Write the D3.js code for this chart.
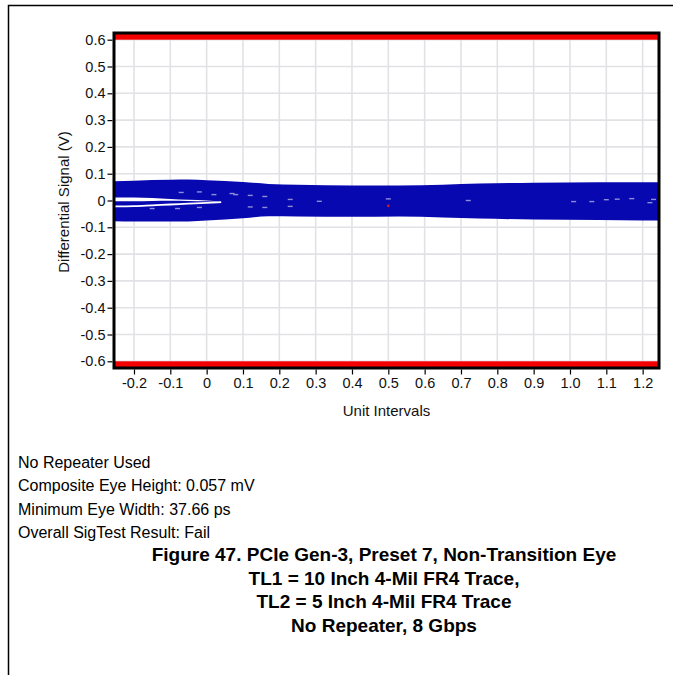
<!DOCTYPE html>
<html>
<head>
<meta charset="utf-8">
<script src="https://cdn.jsdelivr.net/npm/d3@7"></script>
<style>
  body { margin: 0; background: #fff; }
  text { font-family: "Liberation Sans", Arial, sans-serif; }
</style>
</head>
<body>
<script>
var width = 673,
    height = 675;

// tick labels
var xTicks = [-0.2, -0.1, 0, 0.1, 0.2, 0.3, 0.4, 0.5, 0.6, 0.7, 0.8, 0.9, 1.0, 1.1, 1.2];
var yTicks = [0.6, 0.5, 0.4, 0.3, 0.2, 0.1, 0, -0.1, -0.2, -0.3, -0.4, -0.5, -0.6];

// eye mask limits (V)
var maskLimits = [0.6, -0.6];

// outer envelope of the eye traces
var bandX     = [-0.255, -0.2, -0.1, -0.05, 0, 0.1, 0.17, 0.25, 0.4, 0.53, 0.65, 0.75, 0.9, 1.08, 1.2, 1.245];
var bandUpper = [0.072, 0.074, 0.077, 0.078, 0.076, 0.069, 0.062, 0.059, 0.056, 0.056, 0.059, 0.063, 0.066, 0.068, 0.068, 0.068];
var bandLower = [-0.077, -0.078, -0.078, -0.078, -0.075, -0.066, -0.059, -0.060, -0.061, -0.060, -0.063, -0.067, -0.071, -0.073, -0.075, -0.075];

// open gaps near the left edge
var gapX      = [-0.255, -0.2, -0.15, -0.1, -0.05, 0, 0.04];
var gapTop    = [0.011, 0.011, 0.009, 0.006, 0.003, 0.000, -0.004];
var gapBottom = [-0.003, -0.003, -0.002, -0.001, -0.002, -0.003, -0.004];
var gap2Y     = [-0.022, -0.021, -0.018, -0.015, -0.012, -0.009, -0.006];

// small holes inside the traces [UI, V]
var speckX = [-0.07, -0.02, 0.02, 0.08, 0.07, 0.12, 0.16, 0.23, 0.31, -0.15, -0.08, -0.02, 0.12, 0.16, 0.23, 0.50, 0.72, 1.01, 1.06, 1.10, 1.13, 1.17, 1.22, 1.23];
var speckY = [0.030, 0.032, 0.022, 0.022, 0.026, 0.019, 0.015, 0.004, -0.003, -0.030, -0.030, -0.026, -0.024, -0.026, -0.022, 0.006, 0.0, -0.004, -0.004, 0.003, 0.005, 0.007, -0.008, 0.004];

// red marker at eye centre
var centreMark = [0.5, -0.02];

var infoLines = ["No Repeater Used", "Composite Eye Height: 0.057 mV", "Minimum Eye Width: 37.66 ps", "Overall SigTest Result: Fail"];
var captionLines = ["Figure 47. PCIe Gen-3, Preset 7, Non-Transition Eye", "TL1 = 10 Inch 4-Mil FR4 Trace,", "TL2 = 5 Inch 4-Mil FR4 Trace", "No Repeater, 8 Gbps"];

var margin = {left: 114, right: 659, top: 33, bottom: 368};

var svg = d3.select("body")
  .append("svg")
  .attr("width", width)
  .attr("height", height);

// page frame
svg.append("path")
  .attr("d", "M8.5,675V5.5H673")
  .attr("fill", "none")
  .attr("stroke", "#000")
  .attr("stroke-width", 1.5);

var x = d3.scaleLinear().domain([-0.255, 1.245]).range([margin.left, margin.right]);
var y = d3.scaleLinear().domain([-0.625, 0.625]).range([margin.bottom, margin.top]);

// hyphen minus, like the original
var fmt = function(d) { return d === 0 ? "0" : d.toFixed(1); };

// grid
svg.append("g").selectAll("line")
  .data(xTicks)
  .enter().append("line")
  .attr("x1", function(d) { return x(d); })
  .attr("x2", function(d) { return x(d); })
  .attr("y1", margin.top)
  .attr("y2", margin.bottom)
  .attr("stroke", "#e2e2e6")
  .attr("stroke-width", 1.6);

svg.append("g").selectAll("line")
  .data(yTicks)
  .enter().append("line")
  .attr("x1", margin.left)
  .attr("x2", margin.right)
  .attr("y1", function(d) { return y(d); })
  .attr("y2", function(d) { return y(d); })
  .attr("stroke", "#e2e2e6")
  .attr("stroke-width", 1.6);

// mask regions (beyond limits)
svg.append("rect")
  .attr("x", margin.left).attr("width", margin.right - margin.left)
  .attr("y", y(y.domain()[1])).attr("height", y(maskLimits[0]) - y(y.domain()[1]))
  .attr("fill", "#f40000");
svg.append("rect")
  .attr("x", margin.left).attr("width", margin.right - margin.left)
  .attr("y", y(maskLimits[1])).attr("height", y(y.domain()[0]) - y(maskLimits[1]))
  .attr("fill", "#f40000");

// eye band
var band = bandX.map(function(d, i) { return {x: d, hi: bandUpper[i], lo: bandLower[i]}; });
svg.append("path")
  .datum(band)
  .attr("fill", "#0808b0")
  .attr("d", d3.area()
    .curve(d3.curveMonotoneX)
    .x(function(d) { return x(d.x); })
    .y0(function(d) { return y(d.lo); })
    .y1(function(d) { return y(d.hi); }));

var gap = gapX.map(function(d, i) { return {x: d, hi: gapTop[i], lo: gapBottom[i], g2: gap2Y[i]}; });
svg.append("path")
  .datum(gap)
  .attr("fill", "#fff")
  .attr("d", d3.area()
    .curve(d3.curveMonotoneX)
    .x(function(d) { return x(d.x); })
    .y0(function(d) { return y(d.lo); })
    .y1(function(d) { return y(d.hi); }));

svg.append("path")
  .datum(gap)
  .attr("fill", "none")
  .attr("stroke", "#fff")
  .attr("stroke-width", 1.8)
  .attr("d", d3.line()
    .curve(d3.curveMonotoneX)
    .x(function(d) { return x(d.x); })
    .y(function(d) { return y(d.g2); }));

svg.append("g").selectAll("rect")
  .data(speckX)
  .enter().append("rect")
  .attr("x", function(d) { return x(d) - 2.5; })
  .attr("y", function(d, i) { return y(speckY[i]) - 0.7; })
  .attr("width", 5)
  .attr("height", 1.4)
  .attr("fill", "#8e8ed8");

svg.append("circle")
  .attr("cx", x(centreMark[0]))
  .attr("cy", y(centreMark[1]))
  .attr("r", 1.3)
  .attr("fill", "#d02020");

// plot border
svg.append("rect")
  .attr("x", margin.left)
  .attr("y", margin.top)
  .attr("width", margin.right - margin.left)
  .attr("height", margin.bottom - margin.top)
  .attr("fill", "none")
  .attr("stroke", "#000")
  .attr("stroke-width", 3);

// axes
var yAxis = svg.append("g")
  .attr("transform", "translate(" + (margin.left - 1.5) + ",0)")
  .call(d3.axisLeft(y).tickValues(yTicks).tickSize(5).tickPadding(2).tickFormat(fmt));

var xAxis = svg.append("g")
  .attr("transform", "translate(0," + (margin.bottom + 1.5) + ")")
  .call(d3.axisBottom(x).tickValues(xTicks).tickSize(5).tickPadding(3).tickFormat(fmt));

[yAxis, xAxis].forEach(function(a) {
  a.attr("font-size", null).attr("font-family", null);
  a.select(".domain").remove();
  a.selectAll("text")
    .style("font-size", "14.5px")
    .style("font-family", "'Liberation Sans', Arial, sans-serif")
    .attr("fill", "#111");
  a.selectAll("line").attr("stroke", "#000").attr("stroke-width", 1.2);
});

svg.append("text")
  .attr("x", (margin.left + margin.right) / 2)
  .attr("y", 416)
  .attr("text-anchor", "middle")
  .style("font-size", "15px")
  .attr("fill", "#111")
  .text("Unit Intervals");

svg.append("text")
  .attr("transform", "translate(69,202) rotate(-90)")
  .attr("text-anchor", "middle")
  .style("font-size", "15px")
  .attr("fill", "#111")
  .text("Differential Signal (V)");

// notes
svg.append("g").selectAll("text")
  .data(infoLines)
  .enter().append("text")
  .attr("x", 18)
  .attr("y", function(d, i) { return 468 + i * 23.3; })
  .style("font-size", "16px")
  .attr("fill", "#000")
  .text(function(d) { return d; });

svg.append("g").selectAll("text")
  .data(captionLines)
  .enter().append("text")
  .attr("x", 384)
  .attr("y", function(d, i) { return 561 + i * 23.5; })
  .attr("text-anchor", "middle")
  .style("font-size", "19px")
  .attr("font-weight", "bold")
  .attr("fill", "#000")
  .text(function(d) { return d; });
</script>
</body>
</html>
